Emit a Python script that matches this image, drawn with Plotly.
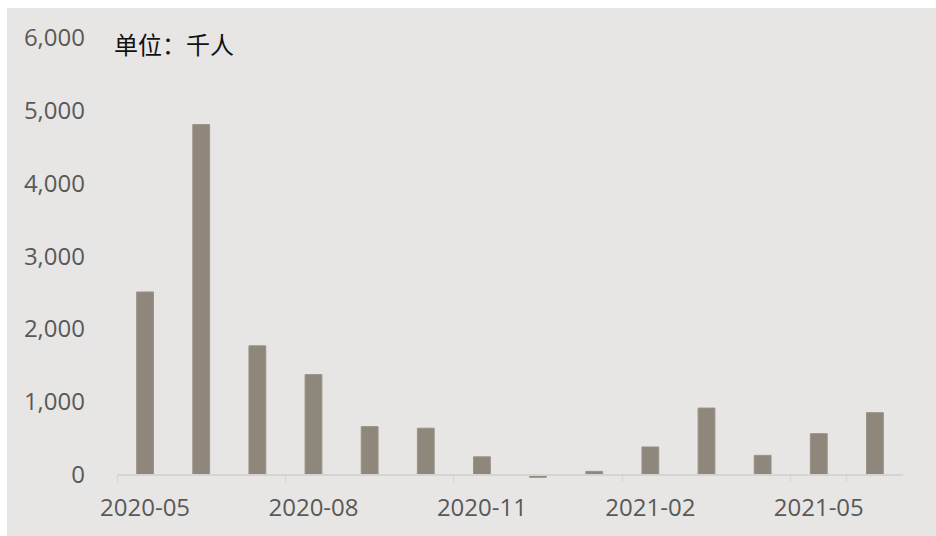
import plotly.graph_objects as go

months = ["2020-05", "2020-06", "2020-07", "2020-08", "2020-09", "2020-10", "2020-11",
          "2020-12", "2021-01", "2021-02", "2021-03", "2021-04", "2021-05", "2021-06"]
values = [2510, 4810, 1770, 1375, 660, 638, 245, -37, 45, 380, 915, 265, 563, 852]
tick_months = ["2020-05", "2020-08", "2020-11", "2021-02", "2021-05"]
y_ticks = [0, 1000, 2000, 3000, 4000, 5000, 6000]
y_ticktext = ["0", "1,000", "2,000", "3,000", "4,000", "5,000", "6,000"]

W, H = 936, 536
Y0_PX, Y6000_PX = 475, 38
YMIN, YMAX = -60, 6000
scale = (Y0_PX - Y6000_PX) / (YMAX - 0)
bottom_px = Y0_PX + (0 - YMIN) * scale
ML, MR, MT = 117, 33, Y6000_PX
MB = H - bottom_px
PW, PH = W - ML - MR, bottom_px - MT

def px_x(p):
    return (p - ML) / PW

def px_y(p):
    return (bottom_px - p) / PH

BG = "#e8e6e4"

fig = go.Figure()
fig.add_trace(go.Bar(
    x=months, y=values,
    marker=dict(color="#8f877b", line=dict(color="#9a9388", width=1)),
    hoverinfo="x+y",
))

fig.update_layout(
    width=W, height=H,
    margin=dict(l=ML, r=MR, t=MT, b=MB, pad=0, autoexpand=False),
    paper_bgcolor="white",
    plot_bgcolor="rgba(0,0,0,0)",
    bargap=0.7,
    showlegend=False,
    font=dict(family="Open Sans, Noto Sans, sans-serif", color="#595959"),
    xaxis=dict(
        type="category",
        anchor="free", position=px_y(Y0_PX),
        tickmode="array", tickvals=tick_months, ticktext=tick_months,
        tickson="boundaries", tickangle=0, automargin=False,
        ticks="outside", ticklen=7, tickcolor="#d6d4d2", tickwidth=1,
        showline=True, linecolor="#d6d4d2", linewidth=1.5,
        showgrid=False, zeroline=False,
        ticklabelstandoff=12,
        tickfont=dict(size=24, color="#595959"),
        range=[-0.5, len(months) - 0.5],
    ),
    yaxis=dict(
        range=[YMIN, YMAX], automargin=False,
        tickmode="array", tickvals=y_ticks, ticktext=y_ticktext,
        showgrid=False, zeroline=False, showline=False,
        ticks="", ticklabelstandoff=31,
        tickfont=dict(size=24, color="#595959"),
    ),
    shapes=[dict(
        type="rect", xref="paper", yref="paper", layer="below",
        x0=px_x(7), x1=px_x(W + 2), y0=px_y(H + 2), y1=px_y(8),
        fillcolor=BG, line=dict(width=0),
    )],
    annotations=[dict(
        text="单位：千人", xref="paper", yref="paper",
        x=px_x(112), y=px_y(44), xanchor="left", yanchor="middle",
        showarrow=False,
        font=dict(family="Noto Sans CJK SC", size=24, color="#111111"),
    )],
)

fig.write_html("out.html")
